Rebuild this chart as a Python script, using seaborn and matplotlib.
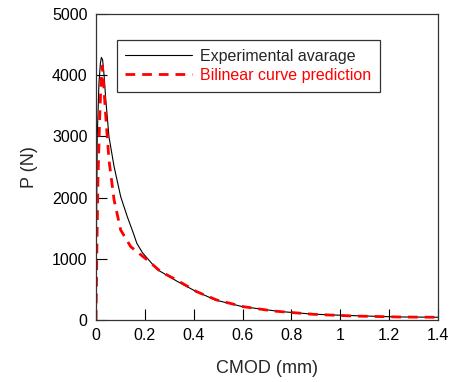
import numpy as np
import pandas as pd
import matplotlib
matplotlib.use("Agg")
import matplotlib.pyplot as plt
import seaborn as sns

# values
exp_cmod = [0.0, 0.002, 0.005, 0.012, 0.018, 0.022, 0.027, 0.033, 0.040, 0.053, 0.074,
            0.101, 0.128, 0.153, 0.167, 0.19, 0.25, 0.333, 0.41, 0.49, 0.6, 0.75, 0.89,
            1.0, 1.23, 1.4]
exp_load = [0, 1500, 2995, 3868, 4200, 4290, 4250, 4000, 3595, 2995, 2505,
            2015, 1688, 1417, 1253, 1100, 825, 630, 465, 325, 218, 140, 95,
            78, 50, 45]

bil_cmod = [0.0, 0.004, 0.008, 0.015, 0.020, 0.026, 0.032, 0.040, 0.053, 0.074, 0.101,
            0.142, 0.21, 0.265, 0.33, 0.412, 0.494, 0.603, 0.726, 0.89, 1.053, 1.245, 1.4]
bil_load = [0, 1300, 2300, 3300, 3850, 4150, 3800, 3322, 2614, 1961, 1470,
            1198, 980, 790, 654, 463, 327, 218, 147, 93, 65, 49, 45]

sns.set_style("ticks")
plt.rcParams["font.family"] = ["Liberation Sans", "DejaVu Sans"]

fig = plt.figure(figsize=(4.54, 3.82), dpi=100)
ax = fig.add_axes([0.2115, 0.1623, 0.7533, 0.8011])

exp_df = pd.DataFrame({"cmod": exp_cmod, "load": exp_load})
bil_df = pd.DataFrame({"cmod": bil_cmod, "load": bil_load})

sns.lineplot(data=exp_df, x="cmod", y="load", ax=ax, color="black", lw=0.8,
             sort=False, estimator=None, label="Experimental avarage")
sns.lineplot(data=bil_df, x="cmod", y="load", ax=ax, color="red", lw=2.0,
             sort=False, estimator=None, label="Bilinear curve prediction",
             dashes=False)
ax.lines[-1].set_linestyle((0, (3.5, 2.5)))

ax.set_xlim(0, 1.4)
ax.set_ylim(0, 5000)
ax.set_xticks(np.arange(0, 1.41, 0.2))
ax.set_xticklabels(["0", "0.2", "0.4", "0.6", "0.8", "1", "1.2", "1.4"])
ax.set_yticks(range(0, 5001, 1000))
ax.tick_params(direction="in", length=8, width=0.8, labelsize=11.5, pad=6,
               colors="black")
for sp in ax.spines.values():
    sp.set_linewidth(0.9)
    sp.set_color("#333333")

ax.set_xlabel("CMOD (mm)", fontsize=13, labelpad=12)
ax.set_ylabel("P (N)", fontsize=13, labelpad=10)

leg = ax.legend(loc="upper left", bbox_to_anchor=(0.06, 0.915), fontsize=11.5,
                frameon=True, fancybox=False, handlelength=4.2, borderpad=0.55,
                labelspacing=0.27, handletextpad=0.45, borderaxespad=0)
leg.get_frame().set_edgecolor("black")
leg.get_frame().set_linewidth(0.9)
leg.get_texts()[1].set_color("red")

fig.savefig("out.png", dpi=100)
